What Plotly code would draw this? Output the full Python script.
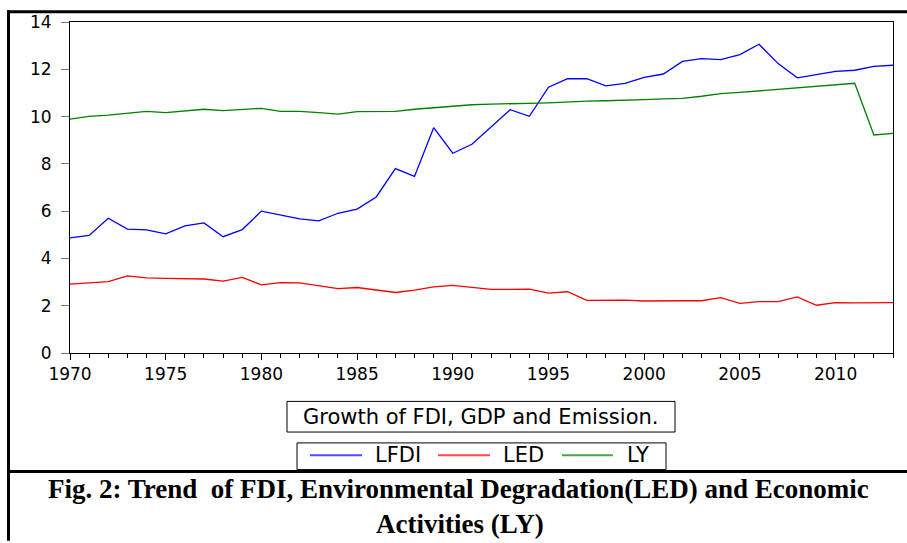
import plotly.graph_objects as go

years = list(range(1970, 2014))
lfdi = [4.87, 4.97, 5.70, 5.24, 5.21, 5.04, 5.38, 5.50, 4.92, 5.22,
        6.00, 5.82, 5.67, 5.59, 5.91, 6.09, 6.60, 7.80, 7.47, 9.53,
        8.45, 8.83, 9.55, 10.29, 10.01, 11.24, 11.60, 11.60, 11.30, 11.40,
        11.66, 11.80, 12.33, 12.45, 12.41, 12.62, 13.06, 12.24, 11.64, 11.77,
        11.91, 11.96, 12.12, 12.17]
led = [2.91, 2.95, 3.02, 3.26, 3.18, 3.16, 3.15, 3.13, 3.04, 3.20,
       2.88, 2.98, 2.97, 2.84, 2.72, 2.77, 2.66, 2.56, 2.66, 2.80,
       2.86, 2.79, 2.69, 2.69, 2.70, 2.53, 2.59, 2.23, 2.24, 2.24,
       2.20, 2.19, 2.21, 2.21, 2.34, 2.10, 2.17, 2.17, 2.37, 2.02,
       2.13, 2.12, 2.12, 2.13]
ly = [9.89, 10.01, 10.06, 10.13, 10.22, 10.17, 10.25, 10.31, 10.25, 10.31,
      10.35, 10.22, 10.22, 10.17, 10.10, 10.21, 10.22, 10.22, 10.31, 10.38,
      10.45, 10.50, 10.53, 10.56, 10.56, 10.58, 10.63, 10.65, 10.67, 10.68,
      10.72, 10.75, 10.77, 10.86, 10.97, 11.02, 11.09, 11.16, 11.21, 11.30,
      11.35, 11.41, 9.22, 9.29]

series_names = ["LFDI", "LED", "LY"]
series_colors = ["#0000ff", "#ff0000", "#008000"]
y_ticks = [0, 2, 4, 6, 8, 10, 12, 14]
x_ticks = [1970, 1975, 1980, 1985, 1990, 1995, 2000, 2005, 2010]
box_title = "Growth of FDI, GDP and Emission."
caption1 = "Fig. 2: Trend\u00a0 of FDI, Environmental Degradation(LED) and Economic"
caption2 = "Activities (LY)"

W, H = 907, 543
L, R, T, B = 70, 14, 18, 190
PW, PH = W - L - R, H - T - B


def px(x):
    return (x - L) / PW


def py(y):
    return (H - B - y) / PH


fig = go.Figure()
for name, vals, col in zip(series_names, [lfdi, led, ly], series_colors):
    fig.add_trace(go.Scatter(x=years, y=vals, mode="lines", name=name,
                             line=dict(color=col, width=1.3), showlegend=False))

tickfont = dict(family="DejaVu Sans", size=17, color="#000")
fig.update_layout(
    width=W, height=H,
    margin=dict(l=L, r=R, t=T, b=B),
    paper_bgcolor="white", plot_bgcolor="white",
    xaxis=dict(range=[1970, 2013], tickvals=x_ticks, ticks="outside", ticklen=6,
               tickcolor="#000", showline=True, linecolor="#000", linewidth=1,
               mirror=True, showgrid=False, zeroline=False, tickfont=tickfont,
               minor=dict(dtick=1, ticks="outside", ticklen=4, tickcolor="#000")),
    yaxis=dict(range=[0, 14], tickvals=y_ticks, ticks="outside", ticklen=8,
               tickcolor="#777", showline=True, linecolor="#000", linewidth=1,
               mirror=True, showgrid=False, zeroline=False, tickfont=tickfont,
               ticklabelstandoff=6),
)

shapes = []
# outer frame lines
shapes.append(dict(type="line", xref="paper", yref="paper", x0=px(8.5), x1=px(8.5),
                   y0=py(6), y1=py(543), line=dict(color="#000", width=3)))
shapes.append(dict(type="line", xref="paper", yref="paper", x0=px(7), x1=px(907),
                   y0=py(7.5), y1=py(7.5), line=dict(color="#000", width=3)))
shapes.append(dict(type="line", xref="paper", yref="paper", x0=px(7), x1=px(907),
                   y0=py(473), y1=py(473), line=dict(color="#000", width=3)))
# title box
shapes.append(dict(type="rect", xref="paper", yref="paper", x0=px(287), x1=px(675),
                   y0=py(433), y1=py(402), line=dict(color="#000", width=1)))
# legend box
shapes.append(dict(type="rect", xref="paper", yref="paper", x0=px(297), x1=px(666),
                   y0=py(471), y1=py(444), line=dict(color="#000", width=1)))

annotations = [
    dict(text=box_title, x=px(480), y=py(417.5), xref="paper", yref="paper",
         xanchor="center", yanchor="middle", showarrow=False,
         font=dict(family="DejaVu Sans", size=21, color="#000")),
    dict(text="<b>" + caption1 + "</b>", x=px(458), y=py(491), xref="paper", yref="paper",
         xanchor="center", yanchor="middle", showarrow=False,
         font=dict(family="Liberation Serif", size=27, color="#000")),
    dict(text="<b>" + caption2 + "</b>", x=px(460), y=py(526), xref="paper", yref="paper",
         xanchor="center", yanchor="middle", showarrow=False,
         font=dict(family="Liberation Serif", size=27, color="#000")),
]

leg_line_x = [(310, 362), (438, 490), (562, 613)]
leg_text_x = [373, 501, 625]
for name, col, (a, b), tx in zip(series_names, series_colors, leg_line_x, leg_text_x):
    shapes.append(dict(type="line", xref="paper", yref="paper", x0=px(a), x1=px(b),
                       y0=py(456.5), y1=py(456.5), opacity=0.7,
                       line=dict(color=col, width=2)))
    annotations.append(dict(text=name, x=px(tx), y=py(456.5), xref="paper", yref="paper",
                            xanchor="left", yanchor="middle", showarrow=False,
                            font=dict(family="DejaVu Sans", size=21, color="#000")))

fig.update_layout(shapes=shapes, annotations=annotations)
fig.write_html("out.html", config={"displayModeBar": False},
               post_script="document.body.style.margin='0';document.body.style.padding='0';"
                           "document.body.style.overflow='hidden';")
